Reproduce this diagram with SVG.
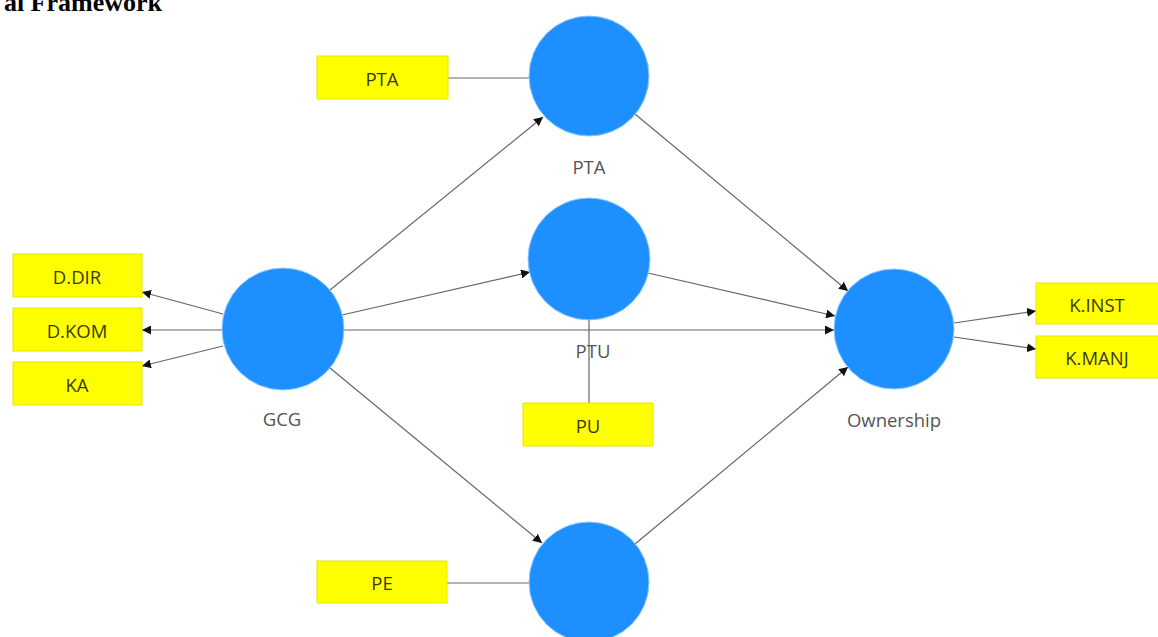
<svg xmlns="http://www.w3.org/2000/svg" width="1158" height="637" viewBox="0 0 1158 637">
<defs>
<style>
.box{fill:#ffff00;stroke:#e6e600;stroke-width:1}
.bt{font-family:"Open Sans","Noto Sans",sans-serif;font-size:18.5px;fill:#3a3a10;text-anchor:middle;dominant-baseline:central}
.lv{fill:#1e8fff;stroke:#8cc8ff;stroke-width:1}
.lt{font-family:"Open Sans","Noto Sans",sans-serif;font-size:18.5px;fill:#555;text-anchor:middle;dominant-baseline:central}
.c{stroke:#666;stroke-width:1.2;fill:none}
.a{marker-end:url(#ah)}
</style>
<marker id="ah" viewBox="0 0 10 10" refX="10" refY="5" markerWidth="9" markerHeight="9" markerUnits="userSpaceOnUse" orient="auto">
<path d="M0,0 L10,5 L0,10 Z" fill="#111"/>
</marker>
</defs>
<rect width="1158" height="637" fill="#fff"/>
<text x="162" y="11" font-family="Liberation Serif,serif" font-weight="bold" font-size="26" text-anchor="end" fill="#000">al Framework</text>
<g id="connectors">
<line class="c" x1="448" y1="78" x2="529" y2="78"/>
<line class="c" x1="589" y1="320" x2="589" y2="403"/>
<line class="c" x1="447" y1="583" x2="529" y2="583"/>
<line class="c a" x1="223" y1="314" x2="142" y2="292"/>
<line class="c a" x1="223" y1="330" x2="142" y2="330"/>
<line class="c a" x1="223" y1="346" x2="142" y2="366"/>
<line class="c a" x1="330" y1="290" x2="543" y2="117"/>
<line class="c a" x1="342" y1="315" x2="530" y2="272"/>
<line class="c a" x1="344" y1="330" x2="834" y2="330"/>
<line class="c a" x1="330" y1="368" x2="542" y2="543"/>
<line class="c a" x1="635" y1="114" x2="848" y2="291"/>
<line class="c a" x1="648" y1="273" x2="835" y2="316"/>
<line class="c a" x1="635" y1="544" x2="848" y2="367"/>
<line class="c a" x1="954" y1="323" x2="1036" y2="311"/>
<line class="c a" x1="954" y1="337" x2="1036" y2="349"/>
</g>
<g id="PTA"><circle class="lv" cx="589" cy="76" r="60"/><text class="lt" x="589" y="166">PTA</text></g>
<g id="PTU"><circle class="lv" cx="589" cy="259" r="61"/><text class="lt" x="593" y="350">PTU</text></g>
<g id="GCG"><circle class="lv" cx="283" cy="329" r="61"/><text class="lt" x="282" y="418">GCG</text></g>
<g id="Ownership"><circle class="lv" cx="894" cy="329" r="60"/><text class="lt" x="894" y="419">Ownership</text></g>
<g id="PE"><circle class="lv" cx="589" cy="582" r="60"/></g>
<g id="box-PTA"><rect class="box" x="317" y="56" width="131" height="43"/><text class="bt" x="382" y="78">PTA</text></g>
<g id="box-PU"><rect class="box" x="523" y="403" width="130" height="43"/><text class="bt" x="588" y="425">PU</text></g>
<g id="box-PE"><rect class="box" x="317" y="561" width="130" height="42"/><text class="bt" x="382" y="582">PE</text></g>
<g id="box-DDIR"><rect class="box" x="13" y="254" width="129" height="43"/><text class="bt" x="77" y="276">D.DIR</text></g>
<g id="box-DKOM"><rect class="box" x="13" y="308" width="129" height="43"/><text class="bt" x="77" y="330">D.KOM</text></g>
<g id="box-KA"><rect class="box" x="13" y="362" width="129" height="43"/><text class="bt" x="77" y="384">KA</text></g>
<g id="box-KINST"><rect class="box" x="1036" y="283" width="130" height="41"/><text class="bt" x="1097" y="304">K.INST</text></g>
<g id="box-KMANJ"><rect class="box" x="1036" y="336" width="130" height="42"/><text class="bt" x="1097" y="357">K.MANJ</text></g>
</svg>
